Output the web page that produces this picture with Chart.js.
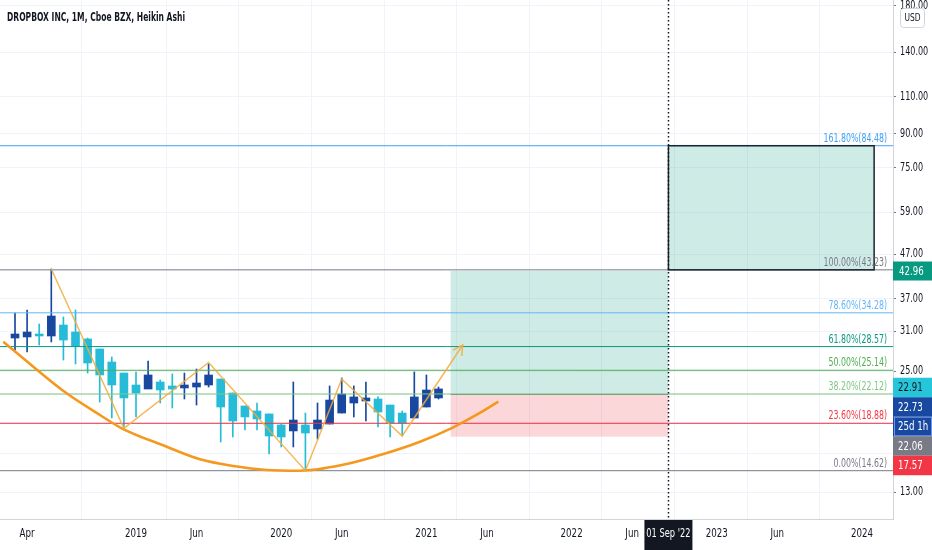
<!DOCTYPE html>
<html>
<head>
<meta charset="utf-8">
<script src="https://cdn.jsdelivr.net/npm/chart.js@4.4.1/dist/chart.umd.min.js"></script>
<style>
  html, body { margin: 0; padding: 0; background: #fff; }
  #wrap { width: 932px; height: 550px; position: relative; }
</style>
</head>
<body>
<div id="wrap"><canvas id="chart"></canvas></div>
<script>
// month index: 0 = Jan 2018, one Heikin Ashi candle per month (Mar 2018 .. Feb 2021)
const candleMonth = [2,3,4,5,6,7,8,9,10,11,12,13,14,15,16,17,18,19,20,21,22,23,24,25,26,27,28,29,30,31,32,33,34,35,36,37];
const haOpen  = [29.92,30.09,30.58,30.25,32.10,30.91,29.77,28.20,26.29,24.77,23.22,22.72,23.60,23.10,22.85,22.97,23.22,23.98,22.24,20.73,20.18,19.86,18.71,18.12,18.71,18.31,18.81,19.96,21.07,21.30,21.53,20.84,19.96,19.43,20.62,21.65];
const haHigh  = [34.25,34.81,32.27,43.43,33.52,34.81,29.92,28.20,27.01,24.77,24.91,26.43,23.85,24.64,24.77,25.31,26.01,23.98,22.24,20.73,21.07,19.86,18.81,23.60,19.96,21.07,23.10,24.11,23.10,23.60,21.77,20.84,20.18,24.91,24.51,22.97];
const haLow   = [28.05,27.75,28.81,29.29,26.57,26.01,24.77,21.18,19.43,18.51,19.54,22.85,21.07,20.51,21.53,20.84,22.97,17.07,17.54,18.21,18.21,16.00,16.62,16.62,14.62,17.35,18.81,19.96,19.54,19.12,18.51,17.54,17.63,19.43,20.62,21.53];
const haClose = [30.58,30.91,30.25,33.70,29.60,28.66,26.15,24.51,23.22,21.65,22.24,24.51,22.60,22.72,23.22,23.47,24.51,20.62,19.12,19.54,19.33,17.63,17.54,19.22,17.92,19.22,21.41,22.12,21.77,21.65,20.07,18.91,18.91,21.77,22.60,22.73];

// fibonacci retracement levels
const fibRatios = ['161.80%','100.00%','78.60%','61.80%','50.00%','38.20%','23.60%','0.00%'];
const fibPrices = [84.48,43.23,34.28,28.57,25.14,22.12,18.88,14.62];
const fibColors = ['#42a0f5','#787b86','#64b5f6','#089981','#4caf50','#81c784','#f23645','#787b86'];

// drawings
const zigMonth = [5,11,18,26,29,34,39];
const zigPrice = [43.43,18.38,26.22,14.62,23.98,17.63,28.81];
const curveMonth = [1.03,3.51,6.27,9.02,10.82,14.54,17.29,20.04,22.80,25.55,29.41,32.17,35.47,38.22,40.45,41.94];
const curvePrice = [29.33,25.63,22.20,19.75,18.38,16.64,15.55,15.00,14.68,14.62,15.16,15.91,17.10,18.48,19.99,21.22];

// long position tool and projection box
const posStart = 38, posEnd = 56;
const posEntry = 22.06, posTarget = 42.96, posStop = 17.57;
const projStart = 56, projEnd = 73, projTop = 84.48, projBottom = 43.23;
const markerMonth = 56, markerLabel = "01 Sep '22";

// axes
const xTickMonths = [3,12,17,24,29,36,41,48,53,60,65,72];
const xTickLabels = ['Apr','2019','Jun','2020','Jun','2021','Jun','2022','Jun','2023','Jun','2024'];
const yTickValues = [13,16,19,22,25,31,37,47,59,75,90,110,140,180];
const yHiddenTicks = [16,19,22];
const xMin = 0.76, xMax = 74.56, yMin = 11.265, yMax = 185.5;

// right axis price labels (stacked like the platform does)
const axisLabelText   = ['22.91','22.73','25d 1h','22.06','17.57'];
const axisLabelPrice  = [22.91,22.73,22.73,22.06,17.57];
const axisLabelBg     = ['#26c6da','#1848a0','#1848a0','#787b86','#f23645'];
const axisLabelFg     = ['#131722','#ffffff','#ffffff','#ffffff','#ffffff'];

const UP = '#1848a0', DOWN = '#26bcd7';
const FONT = '"Liberation Sans Narrow", "DejaVu Sans Condensed", "Roboto", sans-serif';

const candleColors = haOpen.map((o, i) => haClose[i] >= o ? UP : DOWN);

// the platform uses a narrow face; squeeze canvas text horizontally
function narrowText(ctx, text, x, y, sx) {
  ctx.save();
  ctx.translate(x, y);
  ctx.scale(sx, 1);
  ctx.fillText(text, 0, 0);
  ctx.restore();
}

const datasets = [];
datasets.push({
  type: 'line', order: 1,
  data: zigMonth.map((m, i) => ({x: m, y: zigPrice[i]})),
  borderColor: 'rgba(245,170,60,0.85)', borderWidth: 1.5, pointRadius: 0, tension: 0
});
datasets.push({
  type: 'line', order: 1,
  data: curveMonth.map((m, i) => ({x: m, y: curvePrice[i]})),
  borderColor: '#f5981e', borderWidth: 2.6, pointRadius: 0,
  cubicInterpolationMode: 'monotone'
});
fibPrices.forEach((p, i) => {
  datasets.push({
    type: 'line', order: 2,
    data: [{x: xMin, y: p}, {x: xMax, y: p}],
    borderColor: fibColors[i], borderWidth: 1, pointRadius: 0
  });
});
// wicks
datasets.push({
  type: 'bar', order: 4, grouped: false,
  data: candleMonth.map((m, i) => ({x: m, y: [haLow[i], haHigh[i]]})),
  backgroundColor: candleColors, barThickness: 1, borderWidth: 0, borderSkipped: false
});
// bodies
datasets.push({
  type: 'bar', order: 3, grouped: false,
  data: candleMonth.map((m, i) => ({x: m, y: [haOpen[i], haClose[i]]})),
  backgroundColor: candleColors, barThickness: 8, borderWidth: 0, borderSkipped: false,
  minBarLength: 2
});

const overlay = {
  id: 'overlay',
  beforeDatasetsDraw(chart) {
    const {ctx, chartArea: a, scales: {x, y}} = chart;
    ctx.save();
    ctx.beginPath(); ctx.rect(a.left, a.top, a.width, a.height); ctx.clip();
    const l = x.getPixelForValue(posStart), r = x.getPixelForValue(posEnd);
    const yT = y.getPixelForValue(posTarget), yE = y.getPixelForValue(posEntry), yS = y.getPixelForValue(posStop);
    ctx.fillStyle = 'rgba(8,153,129,0.2)';
    ctx.fillRect(l, yT, r - l, yE - yT);
    ctx.fillStyle = 'rgba(242,54,69,0.2)';
    ctx.fillRect(l, yE, r - l, yS - yE);
    ctx.strokeStyle = '#787b86'; ctx.lineWidth = 1;
    ctx.beginPath(); ctx.moveTo(l, yE); ctx.lineTo(r, yE); ctx.stroke();

    const pl = x.getPixelForValue(projStart), pr = x.getPixelForValue(projEnd);
    const pt = y.getPixelForValue(projTop), pb = y.getPixelForValue(projBottom);
    ctx.fillStyle = 'rgba(8,153,129,0.2)';
    ctx.fillRect(pl, pt, pr - pl, pb - pt);
    ctx.restore();
  },
  afterDatasetsDraw(chart) {
    const {ctx, chartArea: a, scales: {x, y}} = chart;
    ctx.save();
    // projection box border
    const pl = x.getPixelForValue(projStart), pr = x.getPixelForValue(projEnd);
    const pt = y.getPixelForValue(projTop), pb = y.getPixelForValue(projBottom);
    ctx.strokeStyle = '#1c2331'; ctx.lineWidth = 1.5;
    ctx.strokeRect(pl, pt, pr - pl, pb - pt);

    // arrow head on zigzag
    const n = zigMonth.length;
    const x1 = x.getPixelForValue(zigMonth[n - 2]), y1 = y.getPixelForValue(zigPrice[n - 2]);
    const x2 = x.getPixelForValue(zigMonth[n - 1]), y2 = y.getPixelForValue(zigPrice[n - 1]);
    const ang = Math.atan2(y2 - y1, x2 - x1);
    ctx.strokeStyle = 'rgba(245,170,60,0.85)'; ctx.lineWidth = 1.5;
    ctx.beginPath();
    ctx.moveTo(x2 - 11 * Math.cos(ang - 0.5), y2 - 11 * Math.sin(ang - 0.5));
    ctx.lineTo(x2, y2);
    ctx.lineTo(x2 - 11 * Math.cos(ang + 0.5), y2 - 11 * Math.sin(ang + 0.5));
    ctx.stroke();

    // fib labels
    ctx.font = '11.5px ' + FONT;
    ctx.textAlign = 'right'; ctx.textBaseline = 'alphabetic';
    fibPrices.forEach((p, i) => {
      ctx.fillStyle = fibColors[i];
      narrowText(ctx, fibRatios[i] + '(' + p.toFixed(2) + ')', a.right - 6, y.getPixelForValue(p) - 4, 0.76);
    });

    // dotted time marker
    const mx = Math.round(x.getPixelForValue(markerMonth)) + 0.5;
    ctx.strokeStyle = '#131722'; ctx.lineWidth = 1.5; ctx.setLineDash([1.5, 2.5]);
    ctx.beginPath(); ctx.moveTo(mx, a.top); ctx.lineTo(mx, a.bottom); ctx.stroke();
    ctx.restore();
  },
  afterDraw(chart) {
    const {ctx, chartArea: a, scales: {x, y}} = chart;
    ctx.save();
    ctx.textBaseline = 'middle';

    // axis tick labels
    ctx.fillStyle = '#131722';
    ctx.font = '11.5px ' + FONT;
    ctx.textAlign = 'left';
    yTickValues.forEach(v => {
      if (yHiddenTicks.includes(v)) return;
      narrowText(ctx, v.toFixed(2), a.right + 7, y.getPixelForValue(v), 0.78);
    });
    ctx.textAlign = 'center';
    xTickMonths.forEach((m, i) => {
      narrowText(ctx, xTickLabels[i], x.getPixelForValue(m), a.bottom + 15, 0.84);
    });

    // title
    ctx.font = 'bold 12px ' + FONT;
    ctx.textAlign = 'left';
    const title = 'DROPBOX INC, 1M, Cboe BZX, Heikin Ashi';
    narrowText(ctx, title, 7, 18, Math.min(1, 178 / ctx.measureText(title).width));

    // USD badge
    ctx.fillStyle = '#ffffff'; ctx.strokeStyle = '#d1d4dc'; ctx.lineWidth = 1;
    ctx.beginPath(); ctx.roundRect(900.5, 8.5, 24, 19, 3); ctx.fill(); ctx.stroke();
    ctx.fillStyle = '#131722'; ctx.font = '10.5px ' + FONT; ctx.textAlign = 'center';
    narrowText(ctx, 'USD', 912.5, 18.5, 0.8);

    // target label
    const labelW = chart.width - a.right;
    ctx.font = '12px ' + FONT; ctx.textAlign = 'left';
    const yc = y.getPixelForValue(posTarget);
    ctx.fillStyle = '#089981';
    ctx.fillRect(a.right, yc - 9.5, labelW, 19);
    ctx.fillStyle = '#ffffff';
    narrowText(ctx, posTarget.toFixed(2), a.right + 6, yc + 0.5, 0.8);

    // stacked price labels
    let prev = -Infinity;
    axisLabelText.forEach((t, i) => {
      const c = Math.max(y.getPixelForValue(axisLabelPrice[i]), prev + 19.5);
      prev = c;
      ctx.fillStyle = axisLabelBg[i];
      ctx.fillRect(a.right, c - 9.75, labelW, 19.5);
      if (t.indexOf('d') > 0) {
        ctx.strokeStyle = '#6f97e8'; ctx.lineWidth = 1;
        ctx.strokeRect(a.right + 1.5, c - 9.25, labelW - 2, 18.5);
      }
      ctx.fillStyle = axisLabelFg[i];
      narrowText(ctx, t, a.right + 5, c + 0.5, 0.8);
    });

    // time marker label
    const mx = x.getPixelForValue(markerMonth);
    ctx.fillStyle = '#131722';
    ctx.fillRect(mx - 24, a.bottom + 1, 48, chart.height - a.bottom - 1);
    ctx.fillStyle = '#ffffff'; ctx.font = '11.5px ' + FONT; ctx.textAlign = 'center';
    narrowText(ctx, markerLabel, mx, a.bottom + 15, 0.8);
    ctx.restore();
  }
};

new Chart(document.getElementById('chart'), {
  type: 'bar',
  data: { datasets },
  options: {
    responsive: true, maintainAspectRatio: false, animation: false,
    layout: { padding: 0 },
    plugins: { legend: { display: false }, tooltip: { enabled: false } },
    scales: {
      x: {
        type: 'linear', position: 'bottom', min: xMin, max: xMax, offset: false,
        afterBuildTicks: s => { s.ticks = xTickMonths.map(v => ({value: v})); },
        afterFit: s => { s.height = 31; s.paddingLeft = 0; s.paddingRight = 0; },
        ticks: { display: false, autoSkip: false },
        grid: { color: '#f0f3fa', drawTicks: false },
        border: { color: '#d1d4dc' }
      },
      y: {
        type: 'logarithmic', position: 'right', min: yMin, max: yMax,
        afterBuildTicks: s => { s.ticks = yTickValues.map(v => ({value: v})); },
        afterFit: s => { s.width = 39; s.paddingTop = 0; s.paddingBottom = 0; },
        ticks: { display: false, autoSkip: false },
        grid: { color: '#f0f3fa', tickLength: 3, tickColor: '#787b86' },
        border: { color: '#d1d4dc' }
      }
    }
  },
  plugins: [overlay]
});
</script>
</body>
</html>
